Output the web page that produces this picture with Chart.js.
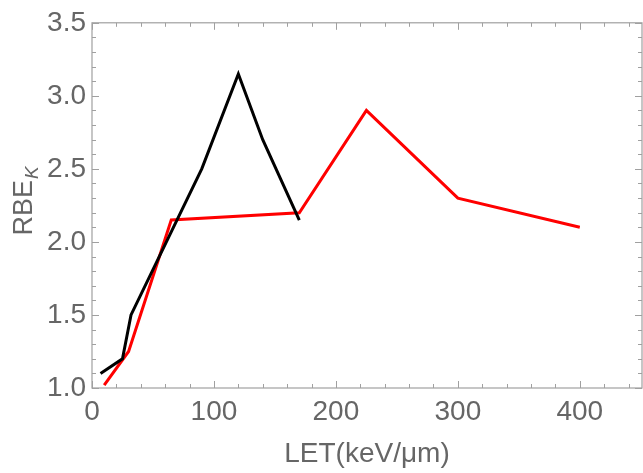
<!DOCTYPE html>
<html>
<head>
<meta charset="utf-8">
<script src="https://cdn.jsdelivr.net/npm/chart.js@4.4.0/dist/chart.umd.min.js"></script>
<style>
  html, body { margin: 0; padding: 0; background: #fff; }
  #wrap { width: 643px; height: 473px; }
</style>
</head>
<body>
<div id="wrap"><canvas id="rbe_chart"></canvas></div>
<script>
const letBlack = [7, 25, 32, 90, 120, 140, 170];
const rbeBlack = [1.1, 1.2, 1.5, 2.5, 3.15, 2.7, 2.15];
const letRed = [10, 30, 65, 170, 225, 300, 400];
const rbeRed = [1.02, 1.25, 2.15, 2.2, 2.9, 2.3, 2.1];

const xTicks = [0, 100, 200, 300, 400];
const yTicks = [1.0, 1.5, 2.0, 2.5, 3.0, 3.5];
const xTitle = 'LET(keV/\u03bcm)';
const yTitle = 'RBE';
const ySub = 'K';

const frameGray = '#a0a0a0';
const labelGray = '#666666';
const fontFam = '"Liberation Sans", Arial, sans-serif';

function toPoints(xs, ys) {
  return xs.map((x, i) => ({ x: x, y: ys[i] }));
}

// mathematica style frame: inward major + minor ticks on all four sides
const frameTicks = {
  id: 'frameTicks',
  afterDraw(chart) {
    const ctx = chart.ctx;
    const a = chart.chartArea;
    const xs = chart.scales.x;
    const ys = chart.scales.y;
    ctx.save();
    ctx.strokeStyle = frameGray;
    ctx.lineWidth = 1.2;
    ctx.strokeRect(a.left, a.top, a.right - a.left, a.bottom - a.top);
    ctx.lineWidth = 1;
    for (let v = 0; v <= xs.max; v += 20) {
      const px = Math.round(xs.getPixelForValue(v)) + 0.5;
      const len = v % 100 === 0 ? 7 : 4;
      ctx.beginPath();
      ctx.moveTo(px, a.bottom); ctx.lineTo(px, a.bottom - len);
      ctx.moveTo(px, a.top); ctx.lineTo(px, a.top + len);
      ctx.stroke();
    }
    for (let k = 10; k <= 35; k++) {
      const py = Math.round(ys.getPixelForValue(k / 10)) + 0.5;
      const len = k % 5 === 0 ? 7 : 4;
      ctx.beginPath();
      ctx.moveTo(a.left, py); ctx.lineTo(a.left + len, py);
      ctx.moveTo(a.right, py); ctx.lineTo(a.right - len, py);
      ctx.stroke();
    }
    // y title with subscript
    ctx.fillStyle = labelGray;
    ctx.translate(32, (a.top + a.bottom) / 2 - 4);
    ctx.rotate(-Math.PI / 2);
    ctx.font = '27px ' + fontFam;
    const w1 = ctx.measureText(yTitle).width;
    ctx.font = 'italic 19px ' + fontFam;
    const w2 = ctx.measureText(ySub).width;
    const start = -(w1 + w2) / 2;
    ctx.textBaseline = 'alphabetic';
    ctx.font = '27px ' + fontFam;
    ctx.fillText(yTitle, start, 0);
    ctx.font = 'italic 19px ' + fontFam;
    ctx.fillText(ySub, start + w1 + 1, 6);
    ctx.restore();
  }
};

const config = {
  type: 'scatter',
  data: {
    datasets: [
      {
        label: 'black',
        data: toPoints(letBlack, rbeBlack),
        showLine: true,
        borderColor: '#000000',
        borderWidth: 3,
        pointRadius: 0,
        tension: 0
      },
      {
        label: 'red',
        data: toPoints(letRed, rbeRed),
        showLine: true,
        borderColor: '#ff0000',
        borderWidth: 3,
        pointRadius: 0,
        tension: 0
      }
    ]
  },
  options: {
    responsive: true,
    maintainAspectRatio: false,
    animation: false,
    layout: { padding: { left: 0, top: 17, right: 1, bottom: 0 } },
    plugins: {
      legend: { display: false },
      tooltip: { enabled: false }
    },
    scales: {
      x: {
        type: 'linear',
        min: 0,
        max: 451,
        afterFit(scale) { scale.height = 85; },
        afterBuildTicks(scale) { scale.ticks = xTicks.map(v => ({ value: v })); },
        grid: { display: false, drawTicks: false },
        border: { display: false },
        ticks: {
          color: labelGray,
          font: { family: fontFam, size: 28 },
          padding: 7,
          maxRotation: 0,
          autoSkip: false
        },
        title: {
          display: true,
          text: xTitle,
          color: labelGray,
          font: { family: fontFam, size: 28 },
          padding: { top: 0, bottom: 2 }
        }
      },
      y: {
        type: 'linear',
        min: 1,
        max: 3.5,
        afterFit(scale) { scale.width = 92; },
        afterBuildTicks(scale) { scale.ticks = yTicks.map(v => ({ value: v })); },
        grid: { display: false, drawTicks: false },
        border: { display: false },
        ticks: {
          color: labelGray,
          font: { family: fontFam, size: 28 },
          padding: 6,
          autoSkip: false,
          callback: v => v.toFixed(1)
        }
      }
    }
  },
  plugins: [frameTicks]
};

document.addEventListener('DOMContentLoaded', () => {
  const chart = new Chart(document.getElementById('rbe_chart').getContext('2d'), config);
});
</script>
</body>
</html>
